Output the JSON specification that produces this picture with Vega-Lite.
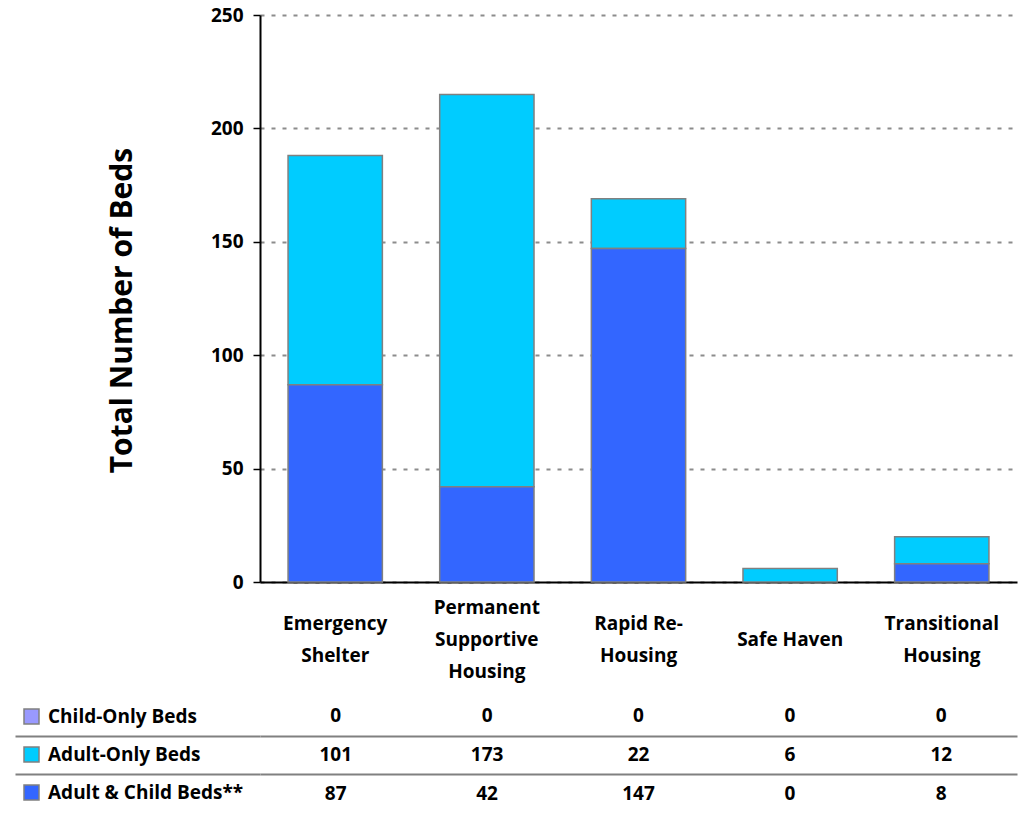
{
  "$schema": "https://vega.github.io/schema/vega-lite/v6.json",
  "padding": {"top": 6, "left": 12, "right": 5, "bottom": 0},
  "background": "white",
  "config": {
    "font": "Open Sans",
    "view": {"stroke": null},
    "concat": {"spacing": 16}
  },
  "datasets": {
    "beds": [
      {"category": "Emergency Shelter", "type": "Child-Only Beds", "value": 0},
      {"category": "Emergency Shelter", "type": "Adult-Only Beds", "value": 101},
      {"category": "Emergency Shelter", "type": "Adult & Child Beds**", "value": 87},
      {"category": "Permanent Supportive Housing", "type": "Child-Only Beds", "value": 0},
      {"category": "Permanent Supportive Housing", "type": "Adult-Only Beds", "value": 173},
      {"category": "Permanent Supportive Housing", "type": "Adult & Child Beds**", "value": 42},
      {"category": "Rapid Re-Housing", "type": "Child-Only Beds", "value": 0},
      {"category": "Rapid Re-Housing", "type": "Adult-Only Beds", "value": 22},
      {"category": "Rapid Re-Housing", "type": "Adult & Child Beds**", "value": 147},
      {"category": "Safe Haven", "type": "Child-Only Beds", "value": 0},
      {"category": "Safe Haven", "type": "Adult-Only Beds", "value": 6},
      {"category": "Safe Haven", "type": "Adult & Child Beds**", "value": 0},
      {"category": "Transitional Housing", "type": "Child-Only Beds", "value": 0},
      {"category": "Transitional Housing", "type": "Adult-Only Beds", "value": 12},
      {"category": "Transitional Housing", "type": "Adult & Child Beds**", "value": 8}
    ]
  },
  "resolve": {"scale": {"color": "independent"}, "legend": {"color": "independent"}},
  "vconcat": [
    {
      "width": 757,
      "height": 567,
      "data": {"name": "beds"},
      "transform": [{"filter": "datum.value > 0"}],
      "mark": {"type": "bar", "stroke": "#808080", "strokeWidth": 1.5},
      "encoding": {
        "x": {
          "field": "category",
          "type": "nominal",
          "sort": null,
          "scale": {"paddingInner": 0.378, "paddingOuter": 0.185},
          "axis": {
            "title": null,
            "labelAngle": 0,
            "ticks": false,
            "tickSize": 0,
            "domainColor": "black",
            "domainWidth": 2,
            "labelFont": "Open Sans",
            "labelFontSize": 19,
            "labelFontWeight": "bold",
            "labelColor": "black",
            "labelBaseline": "middle",
            "labelLineHeight": 16,
            "labelPadding": 25,
            "labelExpr": "datum.value == 'Emergency Shelter' ? ['\u200b', 'Emergency', '\u200b', 'Shelter'] : datum.value == 'Permanent Supportive Housing' ? ['Permanent', '\u200b', 'Supportive', '\u200b', 'Housing'] : datum.value == 'Rapid Re-Housing' ? ['\u200b', 'Rapid Re-', '\u200b', 'Housing'] : datum.value == 'Transitional Housing' ? ['\u200b', 'Transitional', '\u200b', 'Housing'] : ['\u200b', '\u200b', datum.value]"
          }
        },
        "y": {
          "field": "value",
          "type": "quantitative",
          "stack": "zero",
          "scale": {"domain": [0, 250], "nice": false},
          "axis": {
            "title": "Total Number of Beds",
            "titleFont": "Open Sans",
            "titleFontSize": 30,
            "titleFontWeight": "bold",
            "titleColor": "black",
            "titlePadding": 73,
            "titleY": 295,
            "values": [0, 50, 100, 150, 200, 250],
            "labelFont": "Open Sans",
            "labelFontSize": 19,
            "labelFontWeight": "bold",
            "labelColor": "black",
            "labelPadding": 10,
            "tickSize": 7,
            "tickColor": "black",
            "tickWidth": 1.5,
            "domainColor": "black",
            "domainWidth": 2,
            "grid": true,
            "gridColor": "#8c8c8c",
            "gridWidth": 2,
            "gridDash": [4, 7]
          }
        },
        "color": {
          "field": "type",
          "type": "nominal",
          "scale": {
            "domain": ["Child-Only Beds", "Adult-Only Beds", "Adult & Child Beds**"],
            "range": ["#9999FF", "#00CCFF", "#3366FF"]
          },
          "legend": null
        },
        "order": {"field": "type", "sort": "ascending"}
      }
    },
    {
      "width": 757,
      "height": 116,
      "data": {"name": "beds"},
      "layer": [
        {
          "mark": {"type": "square", "opacity": 0, "filled": true},
          "encoding": {
            "x": {"field": "category", "type": "nominal", "sort": null, "scale": {"paddingInner": 0.378, "paddingOuter": 0.185}, "axis": null},
            "y": {
              "field": "type",
              "type": "nominal",
              "sort": ["Child-Only Beds", "Adult-Only Beds", "Adult & Child Beds**"],
              "scale": {"paddingInner": 0, "paddingOuter": 0},
              "axis": {
                "title": null,
                "labels": false,
                "domain": false,
                "values": ["Adult-Only Beds"],
                "tickBand": "extent",
                "ticks": true,
                "tickSize": 245,
                "tickColor": "#808080",
                "tickWidth": 2,
                "grid": true,
                "gridColor": "#808080",
                "gridWidth": 2
              }
            },
            "color": {
              "field": "type",
              "type": "nominal",
              "scale": {
                "domain": ["Child-Only Beds", "Adult-Only Beds", "Adult & Child Beds**"],
                "range": ["#9999FF", "#00CCFF", "#3366FF"]
              },
              "legend": {
                "title": null,
                "orient": "left",
                "offset": -240,
                "padding": 10,
                "symbolType": "square",
                "symbolSize": 225,
                "symbolOpacity": 1,
                "symbolStrokeColor": "#808080",
                "symbolStrokeWidth": 1.5,
                "labelFont": "Open Sans",
                "labelFontSize": 19,
                "labelFontWeight": "bold",
                "labelColor": "black",
                "labelOffset": 7,
                "labelLimit": 300,
                "rowPadding": 17
              }
            }
          }
        },
        {
          "mark": {"type": "text", "font": "Open Sans", "fontSize": 19, "fontWeight": "bold", "color": "black"},
          "encoding": {
            "x": {"field": "category", "type": "nominal", "sort": null},
            "y": {"field": "type", "type": "nominal", "sort": ["Child-Only Beds", "Adult-Only Beds", "Adult & Child Beds**"]},
            "text": {"field": "value", "type": "quantitative"}
          }
        }
      ]
    }
  ]
}
